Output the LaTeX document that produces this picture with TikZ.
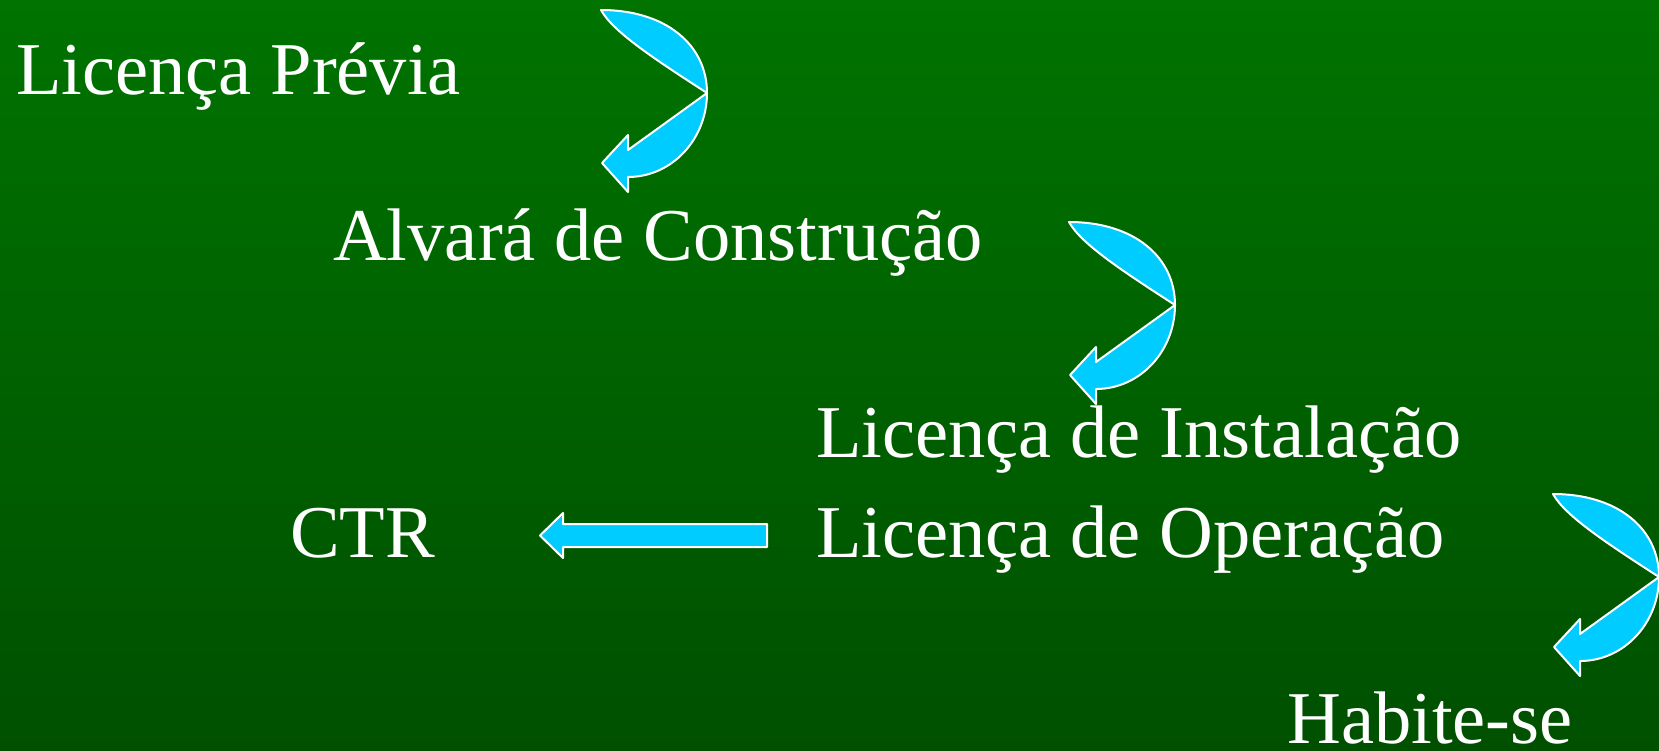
\documentclass[tikz,border=0pt]{standalone}
\usepackage{fontspec}
\setmainfont{Liberation Serif}
\usetikzlibrary{calc}
\definecolor{arrowcyan}{RGB}{0,204,255}
\definecolor{bgtop}{RGB}{0,115,0}
\definecolor{bgbot}{RGB}{0,80,0}
\begin{document}
\begin{tikzpicture}[x=1pt,y=-1pt,
  lbl/.style={anchor=base west,inner sep=0pt,text=white,font=\fontsize{74.5}{88}\selectfont},
  blockarrow/.style={fill=arrowcyan,draw=white,line width=2pt,line join=round},
  curvedarr/.pic={
    \path[blockarrow] (0,0) .. controls (65,0) and (106,35) .. (106,83)
      .. controls (106,129) and (71,167) .. (27,167)
      -- (27,182) -- (1,153) -- (27,125) -- (27,140) -- (106,83)
      .. controls (55,50) and (12,22) .. (0,0) -- cycle;
  }]
\shade[top color=bgtop,bottom color=bgbot] (0,0) rectangle (1659,750);
\useasboundingbox (0,0) rectangle (1659,750);

\node[lbl] (lp)  at (16,94)   {Licença Prévia};
\node[lbl] (ac)  at (333,260) {Alvará de Construção};
\node[lbl] (li)  at (816,457) {Licença de Instalação};
\node[lbl] (lo)  at (816,557) {Licença de Operação};
\node[lbl] (ctr) at (290,557) {CTR};
\node[lbl] (hab) at (1287,743) {Habite-se};

\pic at (601,10)   {curvedarr};
\pic at (1069,222) {curvedarr};
\pic at (1553,494) {curvedarr};

\coordinate (sa) at (767,535.5);
\coordinate (sb) at (540,535.5);
\path[blockarrow] ($(sa)+(0,-11.5)$) -- ($(sb)+(23,-11.5)$) -- ($(sb)+(23,-22.5)$)
  -- (sb) -- ($(sb)+(23,22.5)$) -- ($(sb)+(23,11.5)$) -- ($(sa)+(0,11.5)$) -- cycle;
\end{tikzpicture}
\end{document}
